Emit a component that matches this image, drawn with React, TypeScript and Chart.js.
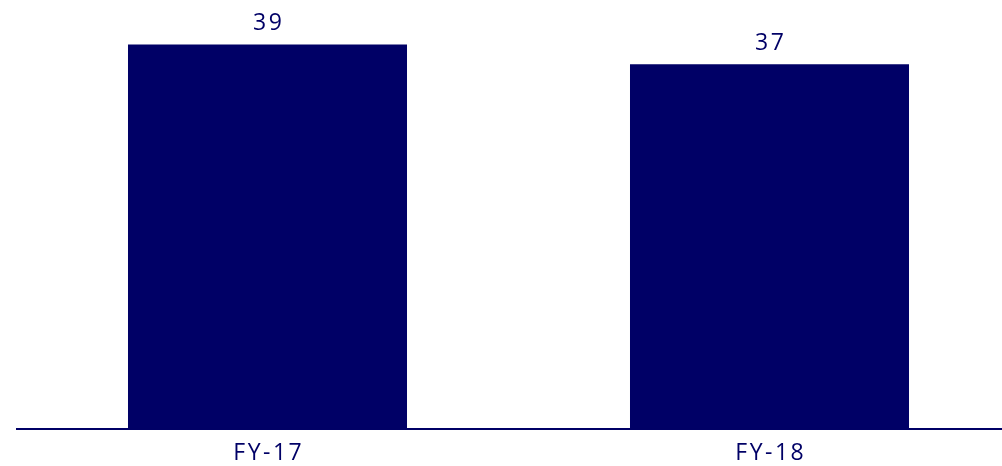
import React, { useEffect, useRef } from "react";
import { Chart, registerables } from "chart.js";

Chart.register(...registerables);

const categories = ["FY-17", "FY-18"];
const values = [39, 37];

const NAVY = "#000066";
const FONT = "'Open Sans', 'Noto Sans', sans-serif";
const FONT_SIZE = 23;
const SPACING = 2.5;

export default function App() {
  const ref = useRef<HTMLCanvasElement>(null);

  useEffect(() => {
    if (!ref.current) return;
    const spacingPlugin = {
      id: "spacing",
      beforeDraw(chart: any) {
        chart.ctx.letterSpacing = SPACING + "px";
      },
    };
    const labelsPlugin = {
      id: "valueLabels",
      afterDatasetsDraw(chart: any) {
        const ctx = chart.ctx;
        const meta = chart.getDatasetMeta(0);
        ctx.save();
        ctx.letterSpacing = SPACING + "px";
        ctx.font = `${FONT_SIZE}px ${FONT}`;
        ctx.fillStyle = NAVY;
        ctx.textAlign = "center";
        ctx.textBaseline = "alphabetic";
        meta.data.forEach((bar: any, i: number) => {
          ctx.fillText(String(values[i]), bar.x + SPACING / 2, bar.y - 14.5);
        });
        ctx.restore();
      },
    };
    const chart = new Chart(ref.current, {
      type: "bar",
      data: {
        labels: categories,
        datasets: [
          {
            data: values,
            backgroundColor: NAVY,
            borderWidth: 0,
            barPercentage: 0.5558,
            categoryPercentage: 1,
          },
        ],
      },
      options: {
        animation: false,
        responsive: false,
        maintainAspectRatio: false,
        layout: { padding: { left: 16.5, right: 0.5, top: 8, bottom: 0.5 } },
        plugins: { legend: { display: false }, tooltip: { enabled: false } },
        scales: {
          x: {
            grid: { display: false, drawTicks: false },
            border: { display: true, color: NAVY, width: 2 },
            ticks: {
              color: NAVY,
              font: { family: FONT, size: FONT_SIZE, lineHeight: 1 },
              padding: 13,
              labelOffset: SPACING / 2,
              maxRotation: 0,
              autoSkip: false,
            },
          },
          y: { display: false, min: 0, max: 42.72 },
        },
      },
      plugins: [spacingPlugin, labelsPlugin],
    } as any);
    return () => chart.destroy();
  }, []);

  return (
    <div
      style={{
        position: "fixed",
        left: 0,
        top: 0,
        width: 1002,
        height: 466,
        overflow: "hidden",
        background: "#ffffff",
      }}
    >
      <canvas ref={ref} width={1021} height={478} style={{ display: "block" }} />
    </div>
  );
}
